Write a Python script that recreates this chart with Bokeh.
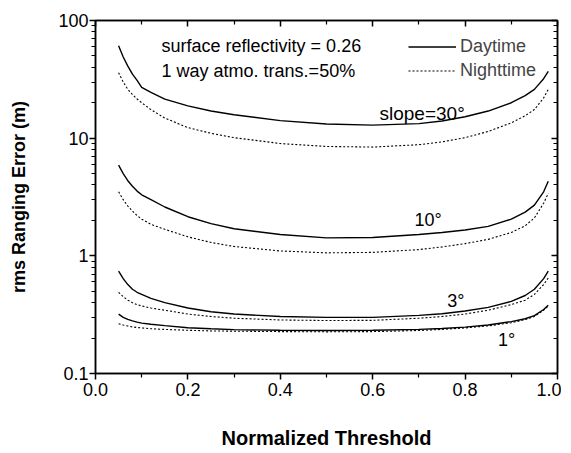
from bokeh.plotting import figure
from bokeh.models import (Range1d, LinearAxis, LogAxis, FixedTicker, LogTicker,
                          Label, Legend, LegendItem, CustomJSTickFormatter)
from bokeh.embed import file_html
from bokeh.resources import INLINE

threshold = [0.05, 0.06, 0.07, 0.08, 0.09, 0.1, 0.12, 0.15, 0.2, 0.25, 0.3, 0.4, 0.5,
             0.6, 0.7, 0.75, 0.8, 0.85, 0.9, 0.93, 0.95, 0.97, 0.98]

day_30 = [61, 49, 41, 35, 31, 27, 24.5, 21.5, 18.8, 17.0, 15.8, 14.1, 13.2,
          12.9, 13.3, 14.0, 15.2, 17.0, 20.0, 23, 26, 32, 37]
night_30 = [36, 30, 26, 23.5, 21.5, 20, 17.5, 14.8, 12.3, 11.0, 10.1, 9.0, 8.5,
            8.4, 8.8, 9.3, 10.1, 11.4, 13.5, 15.5, 17.5, 22, 26]
day_10 = [5.9, 5.0, 4.35, 3.9, 3.55, 3.3, 3.0, 2.6, 2.15, 1.88, 1.70, 1.52, 1.42,
          1.43, 1.52, 1.58, 1.66, 1.78, 2.05, 2.35, 2.7, 3.5, 4.3]
night_10 = [3.5, 3.0, 2.65, 2.4, 2.2, 2.05, 1.85, 1.68, 1.45, 1.3, 1.2, 1.1, 1.06,
            1.07, 1.13, 1.19, 1.27, 1.38, 1.58, 1.8, 2.1, 2.8, 3.4]
day_3 = [0.74, 0.64, 0.57, 0.52, 0.49, 0.47, 0.435, 0.40, 0.36, 0.335, 0.32, 0.305, 0.30,
         0.30, 0.312, 0.322, 0.34, 0.365, 0.41, 0.46, 0.52, 0.64, 0.74]
night_3 = [0.49, 0.45, 0.42, 0.40, 0.385, 0.375, 0.36, 0.345, 0.32, 0.305, 0.295, 0.285, 0.282,
           0.283, 0.295, 0.305, 0.32, 0.345, 0.385, 0.42, 0.47, 0.57, 0.65]
day_1 = [0.32, 0.30, 0.288, 0.28, 0.273, 0.268, 0.262, 0.255, 0.245, 0.24, 0.236, 0.233, 0.232,
         0.233, 0.237, 0.241, 0.248, 0.258, 0.276, 0.292, 0.31, 0.35, 0.38]
night_1 = [0.265, 0.258, 0.253, 0.249, 0.246, 0.244, 0.24, 0.237, 0.233, 0.23, 0.229, 0.227, 0.226,
           0.227, 0.232, 0.237, 0.244, 0.254, 0.27, 0.287, 0.305, 0.345, 0.375]

x_ticks = [0.0, 0.2, 0.4, 0.6, 0.8, 1.0]
x_minor = [0.1, 0.3, 0.5, 0.7, 0.9]
x_tick_labels = {0.0: "0.0", 0.2: "0.2", 0.4: "0.4", 0.6: "0.6", 0.8: "0.8", 1.0: "1.0"}
y_tick_labels = {0.1: "0.1", 1: "1", 10: "10", 100: "100"}

FONT = "Liberation Sans"

p = figure(width=561, height=452, y_axis_type="log",
           x_range=Range1d(0, 1.0), y_range=Range1d(0.1, 100),
           output_backend="svg", toolbar_location=None,
           min_border_left=95, min_border_right=4, min_border_top=20, min_border_bottom=79)
p.grid.visible = False
p.outline_line_color = "black"
p.outline_line_width = 1.5
p.background_fill_color = "white"

solid_r = None
dot_r = None
for d, n in [(day_30, night_30), (day_10, night_10), (day_3, night_3), (day_1, night_1)]:
    solid_r = p.line(threshold, d, line_color="black", line_width=1.4)
    dot_r = p.line(threshold, n, line_color="black", line_width=1.1, line_dash="2 2")

xa = p.xaxis[0]
xa.ticker = FixedTicker(ticks=x_ticks, minor_ticks=x_minor)
xa.major_label_overrides = x_tick_labels
xa.axis_label = "Normalized Threshold"
ya = p.yaxis[0]
ya.ticker = LogTicker(desired_num_ticks=4, num_minor_ticks=10)
ya.major_label_overrides = y_tick_labels
ya.axis_label = "rms Ranging Error (m)"

for ax in (xa, ya):
    ax.axis_line_width = 1.5
    ax.major_tick_line_width = 1.5
    ax.minor_tick_line_width = 1.2
    ax.major_tick_in = 0
    ax.major_tick_out = 6
    ax.minor_tick_in = 0
    ax.minor_tick_out = 4
    ax.major_label_text_font = FONT
    ax.major_label_text_font_size = "18px"
    ax.major_label_text_color = "black"
    ax.axis_label_text_font = FONT
    ax.axis_label_text_font_style = "bold"
    ax.axis_label_text_color = "black"
xa.axis_label_text_font_size = "20px"
ya.axis_label_text_font_size = "18px"
xa.major_label_standoff = 3
xa.axis_label_standoff = 28
ya.major_label_standoff = 1
ya.axis_label_standoff = 26

top = LinearAxis(ticker=FixedTicker(ticks=x_ticks, minor_ticks=x_minor))
right = LogAxis(ticker=LogTicker(desired_num_ticks=4, num_minor_ticks=10))
for ax in (top, right):
    ax.formatter = CustomJSTickFormatter(code="return ' ';")
    ax.major_label_text_font_size = "2px"
    ax.major_label_standoff = 0
    ax.axis_line_width = 1.5
    ax.major_tick_line_width = 1.5
    ax.minor_tick_line_width = 1.2
    ax.major_tick_in = 6
    ax.major_tick_out = 0
    ax.minor_tick_in = 4
    ax.minor_tick_out = 0
p.add_layout(top, "above")
p.add_layout(right, "right")

legend = Legend(items=[LegendItem(label="Daytime", renderers=[solid_r]),
                       LegendItem(label="Nighttime", renderers=[dot_r])],
                location=(313, 292), padding=0, margin=0, spacing=3,
                glyph_width=48, glyph_height=21, label_height=21, label_standoff=4,
                background_fill_alpha=0, border_line_alpha=0,
                label_text_font=FONT, label_text_font_size="18px")
p.add_layout(legend, "center")

def add_label(x, y, text, size="18px", align="left"):
    p.add_layout(Label(x=x, y=y, text=text, text_font=FONT, text_font_size=size,
                       text_baseline="middle", text_align=align, text_color="black"))

add_label(0.143, 61, "surface reflectivity = 0.26")
add_label(0.143, 37.5, "1 way atmo. trans.=50%")
add_label(0.707, 16.2, "slope=30°", "19px", "center")
add_label(0.72, 2.0, "10°", "18px", "center")
add_label(0.78, 0.41, "3°", "18px", "center")
add_label(0.89, 0.194, "1°", "18px", "center")

open("out.html", "w").write(file_html(p, INLINE))
